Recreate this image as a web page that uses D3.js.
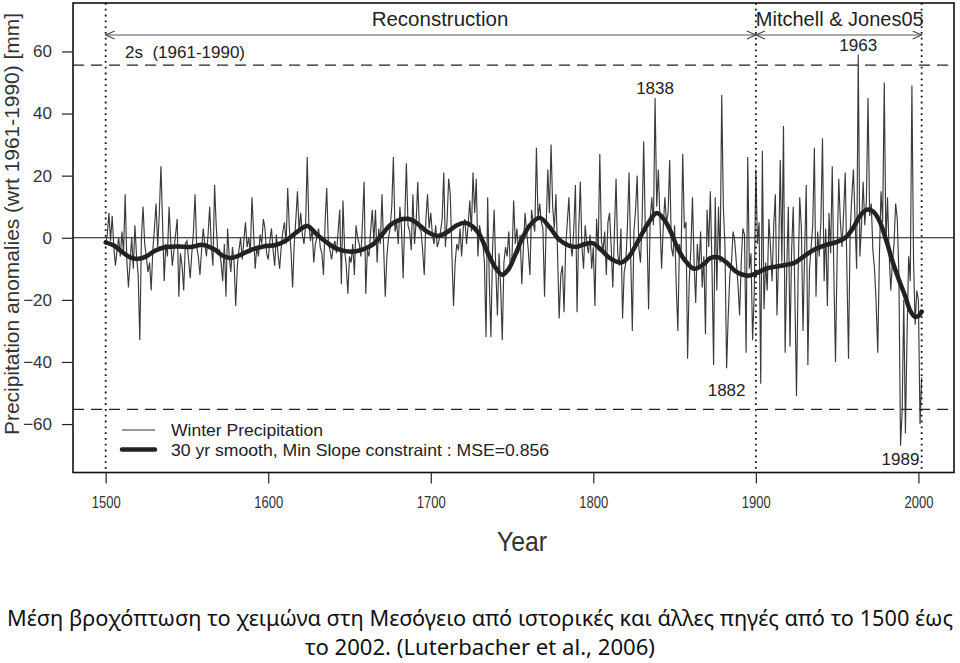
<!DOCTYPE html>
<html>
<head>
<meta charset="utf-8">
<script src="https://cdn.jsdelivr.net/npm/d3@7"></script>
<style>
  html, body { margin: 0; padding: 0; background: #fff; }
  svg { display: block; }
</style>
</head>
<body>
<svg id="chart" width="960" height="663"></svg>
<script>
// ---------------- DATA ----------------
const startYear = 1500;
const precip = [
  // 1500s
  -2, 1, 8, -1, 7, -3, -9, -4, 0, -6,
  2, -5, 14, -7, -16, -8, 0, -10, 4, -6,
  -12, -33, 0, 10, -2, -6, -11, -8, -17, -4,
  3, 11, -3, 8, 23, 5, -14, -2, -6, 10,
  -1, -9, -4, 1, 6, -19, -5, -9, -17, -2,
  -1, -7, -13, -5, 2, 14, -3, -6, -12, -4,
  3, -2, -6, 1, 10, -3, -9, 17, 4, -5,
  -4, -8, -14, -2, -19, 3, -6, -11, -3, -8,
  -22, -9, -4, 0, -7, -1, 5, -3, 0, -5,
  13, 2, -10, -3, -6, 1, -2, 6, 3, -5,
  // 1600s
  -7, -1, 3, -4, -9, 1, -5, -10, -3, 2,
  5, -2, 16, 3, -4, -16, -2, 6, 15, 2,
  8, 1, -2, 4, 26, 4, -1, 3, -8, -2,
  0, 3, -3, -5, -12, 5, 16, -2, -4, -7,
  -3, -1, -5, 2, 9, -15, 12, -4, -9, -18,
  -6, -8, -2, -12, 4, 0, -2, -6, 5, 18,
  -18, -4, -6, 2, 9, -1, 9, -8, 3, -2,
  14, -3, -19, -6, 0, 3, 10, 26, 2, 5,
  -2, 10, 3, -13, 6, 24, 4, 2, -4, 14,
  -2, 5, 18, 3, 2, -4, -12, 6, 14, 3,
  // 1700s
  8, 1, -2, 4, -3, -1, 2, 6, 21, -3,
  5, 19, 14, -5, -22, -8, -2, -4, 3, -6,
  3, 6, -2, 4, 12, 2, 21, 8, 19, -6,
  4, 1, -1, -8, -32, 13, -14, -32, -4, 9,
  -10, -25, -5, -16, -33, -8, -3, -6, 2, -10,
  -6, 12, -2, 3, -5, 1, -15, -3, 8, 2,
  -4, -12, 9, 5, 2, 29, 6, 11, 5, 3,
  -19, 4, 22, 8, 30, 10, 3, 14, -5, -26,
  -12, -9, -24, -3, 5, 13, -2, -6, 3, 17,
  -24, 2, 18, -3, -10, 4, -2, -5, 1, -10,
  // 1800s
  -3, -22, 6, -4, 27, -1, -4, 2, -12, 5,
  8, -3, -16, 2, 19, -5, -9, 3, -26, -11,
  -8, 4, 21, -6, -30, 2, 9, 20, -3, -8,
  5, 31, 2, 3, -23, 6, 13, 4, 45, 10,
  22, 6, -10, 3, 13, 5, 8, 25, -3, -6,
  4, -15, -30, -2, -6, 27, 3, 5, -39, -14,
  -4, 13, -8, -21, -2, -10, 2, -16, -6, -31,
  9, -3, 15, -9, -41, 13, -17, 10, -8, 46,
  10, -3, -42, -25, -12, -8, 2, -1, -8, -15,
  -25, -8, 3, 1, -37, 26, -10, -5, -33, -18,
  // 1900s
  22, -2, 5, -47, 28, -23, -8, -17, 6, -3,
  -14, 4, 14, -25, -6, 25, -8, 36, -37, -10,
  10, -35, -4, 10, -18, -51, -12, 13, 3, -30,
  -5, 17, -41, -10, -3, 4, 29, -19, 2, -6,
  5, 32, -14, 3, -22, 8, -5, 23, -12, -40,
  -6, 19, 5, -3, 8, 21, -10, -39, 2, 13,
  22, 6, -10, 59, -6, 4, 18, 4, 12, 45,
  7, 11, -4, -10, -21, -37, -6, 15, 5, 50,
  -2, 13, -5, -17, -8, -2, 11, 6, -12, -67,
  -56, -20, -63, -32, -6, -14, 49, -7, -28, -17,
  // 2000s
  -20, -60, -45
];

// 30-yr smooth (read at selected years)
const smoothYears = [1500,1505,1510,1515,1520,1525,1530,1537,1545,1552,1560,1567,1572,1577,1583,1590,1597,1605,1612,1618,1624,1630,1636,1642,1651,1658,1664,1670,1676,1686,1692,1697,1704,1710,1716,1721,1726,1730,1735,1740,1744,1748,1752,1756,1761,1767,1773,1779,1785,1790,1795,1800,1805,1810,1817,1822,1827,1833,1839,1844,1848,1852,1856,1862,1868,1872,1877,1882,1888,1895,1900,1906,1912,1918,1924,1930,1936,1942,1950,1955,1960,1964,1968,1972,1976,1980,1984,1988,1992,1995,1998,2000,2002];
const smoothValues = [-1.5,-2.5,-4.5,-6.3,-6.8,-6,-4.3,-3,-2.8,-3,-2.3,-3.8,-5.8,-6.5,-5.5,-3.8,-2.8,-2.3,-0.5,2,3.8,1,-1.5,-3.5,-4.5,-3.8,-2.3,1,4.5,6.1,4.5,2.2,0.6,1.8,4,4.8,3.5,1,-4.8,-9.8,-11.9,-10,-5.5,-0.6,4,6.4,3.5,-0.6,-2.5,-2.9,-2,-1.8,-4,-6.5,-8,-6,-1.6,4,8,5.5,1.5,-3.5,-7,-10,-8.5,-6.5,-6.3,-8,-11,-12.2,-11.5,-10,-9.3,-8.8,-8,-5.8,-3.8,-2.5,-1.3,0,3.3,7,9,8.5,5.5,-0.5,-7.5,-13.5,-19,-23.5,-25.5,-25.2,-23.8];

const yTicks = [-60, -40, -20, 0, 20, 40, 60];
const xTicks = [1500, 1600, 1700, 1800, 1900, 2000];
const twoSigma = [55.6, -55.3];
const periodBounds = [1500, 1900, 2002];
const periodLabels = ["Reconstruction", "Mitchell & Jones05"];
const extremes = [
  { year: 1838, label: "1838" },
  { year: 1963, label: "1963" },
  { year: 1882, label: "1882" },
  { year: 1989, label: "1989" }
];
const legendLabels = ["Winter Precipitation", "30 yr smooth, Min Slope constraint : MSE=0.856"];
const yTitle = "Precipitation anomalies (wrt 1961-1990) [mm]";
const xTitle = "Year";
const sigmaLabel = "2s  (1961-1990)";
const caption = ["Μέση βροχόπτωση το χειμώνα στη Μεσόγειο από ιστορικές και άλλες πηγές από το 1500 έως",
                 "το 2002. (Luterbacher et al., 2006)"];

// ---------------- DRAW ----------------
const svg = d3.select("#chart");
const L = 73, R = 954, T = 3, B = 472.5;
const x = d3.scaleLinear().domain([1479.9, 2021.9]).range([L, R]);
const y = d3.scaleLinear().domain([-75.6, 75.6]).range([B, T]);
const series = precip.map((v, i) => ({ year: startYear + i, v }));
const smooth = smoothYears.map((yr, i) => ({ year: yr, v: smoothValues[i] }));

const axisFont = "'Liberation Sans', Arial, sans-serif";
const capFont = "'Noto Sans', 'Open Sans', sans-serif";

const g = svg.append("g");

// zero line
g.append("line").attr("x1", L).attr("x2", R).attr("y1", y(0)).attr("y2", y(0))
  .attr("stroke", "#111").attr("stroke-width", 1.2);

// 2-sigma dashed lines
g.selectAll(".sig").data(twoSigma).join("line")
  .attr("x1", L).attr("x2", R).attr("y1", d => y(d)).attr("y2", d => y(d))
  .attr("stroke", "#222").attr("stroke-width", 1.3).attr("stroke-dasharray", "11,7");

// series
g.append("path").datum(series)
  .attr("d", d3.line().x(d => x(d.year)).y(d => y(d.v)))
  .attr("fill", "none").attr("stroke", "#3a3a3a").attr("stroke-width", 1.15)
  .attr("stroke-linejoin", "miter");

// smooth
g.append("path").datum(smooth)
  .attr("d", d3.line().x(d => x(d.year)).y(d => y(d.v)).curve(d3.curveCatmullRom.alpha(0.5)))
  .attr("fill", "none").attr("stroke", "#222").attr("stroke-width", 4.5)
  .attr("stroke-linecap", "round");

// dotted period bounds
g.selectAll(".pb").data(periodBounds).join("line")
  .attr("x1", d => x(d)).attr("x2", d => x(d)).attr("y1", T).attr("y2", B)
  .attr("stroke", "#111").attr("stroke-width", 1.8).attr("stroke-dasharray", "1.8,4");

// period arrows
const arrowY = 35;
function arrow(x1, x2) {
  g.append("line").attr("x1", x1).attr("x2", x2).attr("y1", arrowY).attr("y2", arrowY)
    .attr("stroke", "#555").attr("stroke-width", 1.1);
  g.append("path").attr("d", `M${x1 + 9},${arrowY - 4} L${x1},${arrowY} L${x1 + 9},${arrowY + 4}`)
    .attr("fill", "none").attr("stroke", "#444").attr("stroke-width", 1.1);
  g.append("path").attr("d", `M${x2 - 9},${arrowY - 4} L${x2},${arrowY} L${x2 - 9},${arrowY + 4}`)
    .attr("fill", "none").attr("stroke", "#444").attr("stroke-width", 1.1);
}
arrow(x(periodBounds[0]), x(periodBounds[1]));
arrow(x(periodBounds[1]), x(periodBounds[2]));

g.append("text").attr("x", 440).attr("y", 26).attr("text-anchor", "middle")
  .attr("font-family", axisFont).attr("font-size", 20.5).attr("fill", "#222").text(periodLabels[0]);
g.append("text").attr("x", (x(periodBounds[1]) + x(periodBounds[2])) / 2 + 1).attr("y", 26).attr("text-anchor", "middle")
  .attr("font-family", axisFont).attr("font-size", 20).attr("fill", "#222").text(periodLabels[1]);

g.append("text").attr("x", 125).attr("y", 58).attr("font-family", axisFont)
  .attr("font-size", 17).attr("fill", "#222").attr("xml:space", "preserve").text(sigmaLabel);

// extreme labels
const labelY = { 1838: 94, 1963: 51, 1882: 396, 1989: 465 };
g.selectAll(".ext").data(extremes).join("text")
  .attr("x", d => x(d.year))
  .attr("y", d => labelY[d.year])
  .attr("text-anchor", "middle").attr("font-family", axisFont).attr("font-size", 17)
  .attr("fill", "#222").text(d => d.label);

// legend
g.append("line").attr("x1", 122).attr("x2", 155).attr("y1", 430).attr("y2", 430)
  .attr("stroke", "#333").attr("stroke-width", 1);
g.append("line").attr("x1", 122).attr("x2", 155).attr("y1", 449.5).attr("y2", 449.5)
  .attr("stroke", "#222").attr("stroke-width", 4.5).attr("stroke-linecap", "round");
g.selectAll(".leg").data(legendLabels).join("text")
  .attr("x", 171).attr("y", (d, i) => 435.5 + i * 20)
  .attr("font-family", axisFont).attr("font-size", 16.5).attr("fill", "#222")
  .attr("textLength", (d, i) => i === 0 ? 152 : 378).attr("lengthAdjust", "spacingAndGlyphs")
  .text(d => d);

// border
g.append("rect").attr("x", L).attr("y", T).attr("width", R - L).attr("height", B - T)
  .attr("fill", "none").attr("stroke", "#111").attr("stroke-width", 1.6);

// y axis
const yAxis = svg.append("g").attr("transform", `translate(${L},0)`)
  .call(d3.axisLeft(y).tickValues(yTicks).tickSize(11).tickPadding(10).tickFormat(d3.format("d")));
yAxis.select(".domain").remove();
yAxis.selectAll("line").attr("stroke", "#222").attr("stroke-width", 1.2);
yAxis.selectAll("text").attr("font-family", axisFont).attr("font-size", 17).attr("fill", "#333");

// x axis
const xAxis = svg.append("g").attr("transform", `translate(0,${B})`)
  .call(d3.axisBottom(x).tickValues(xTicks).tickSize(11).tickPadding(13).tickFormat(d3.format("d")));
xAxis.select(".domain").remove();
xAxis.selectAll("line").attr("stroke", "#222").attr("stroke-width", 1.2);
xAxis.selectAll("text").attr("font-family", axisFont).attr("font-size", 16.5).attr("fill", "#333")
  .attr("textLength", 29).attr("lengthAdjust", "spacingAndGlyphs");

// titles
svg.append("text").attr("transform", `translate(19,224) rotate(-90)`).attr("text-anchor", "middle")
  .attr("font-family", axisFont).attr("font-size", 20).attr("fill", "#333")
  .attr("textLength", 422).attr("lengthAdjust", "spacingAndGlyphs").text(yTitle);
svg.append("text").attr("x", 522).attr("y", 551).attr("text-anchor", "middle")
  .attr("font-family", axisFont).attr("font-size", 28).attr("fill", "#333")
  .attr("textLength", 50).attr("lengthAdjust", "spacingAndGlyphs").text(xTitle);

// caption
svg.append("text").attr("x", 480).attr("y", 626).attr("text-anchor", "middle")
  .attr("font-family", capFont).attr("font-size", 21).attr("fill", "#111")
  .attr("textLength", 946).attr("lengthAdjust", "spacingAndGlyphs").text(caption[0]);
svg.append("text").attr("x", 480).attr("y", 655).attr("text-anchor", "middle")
  .attr("font-family", capFont).attr("font-size", 21.5).attr("fill", "#111")
  .attr("textLength", 350).attr("lengthAdjust", "spacingAndGlyphs").text(caption[1]);
</script>
</body>
</html>
